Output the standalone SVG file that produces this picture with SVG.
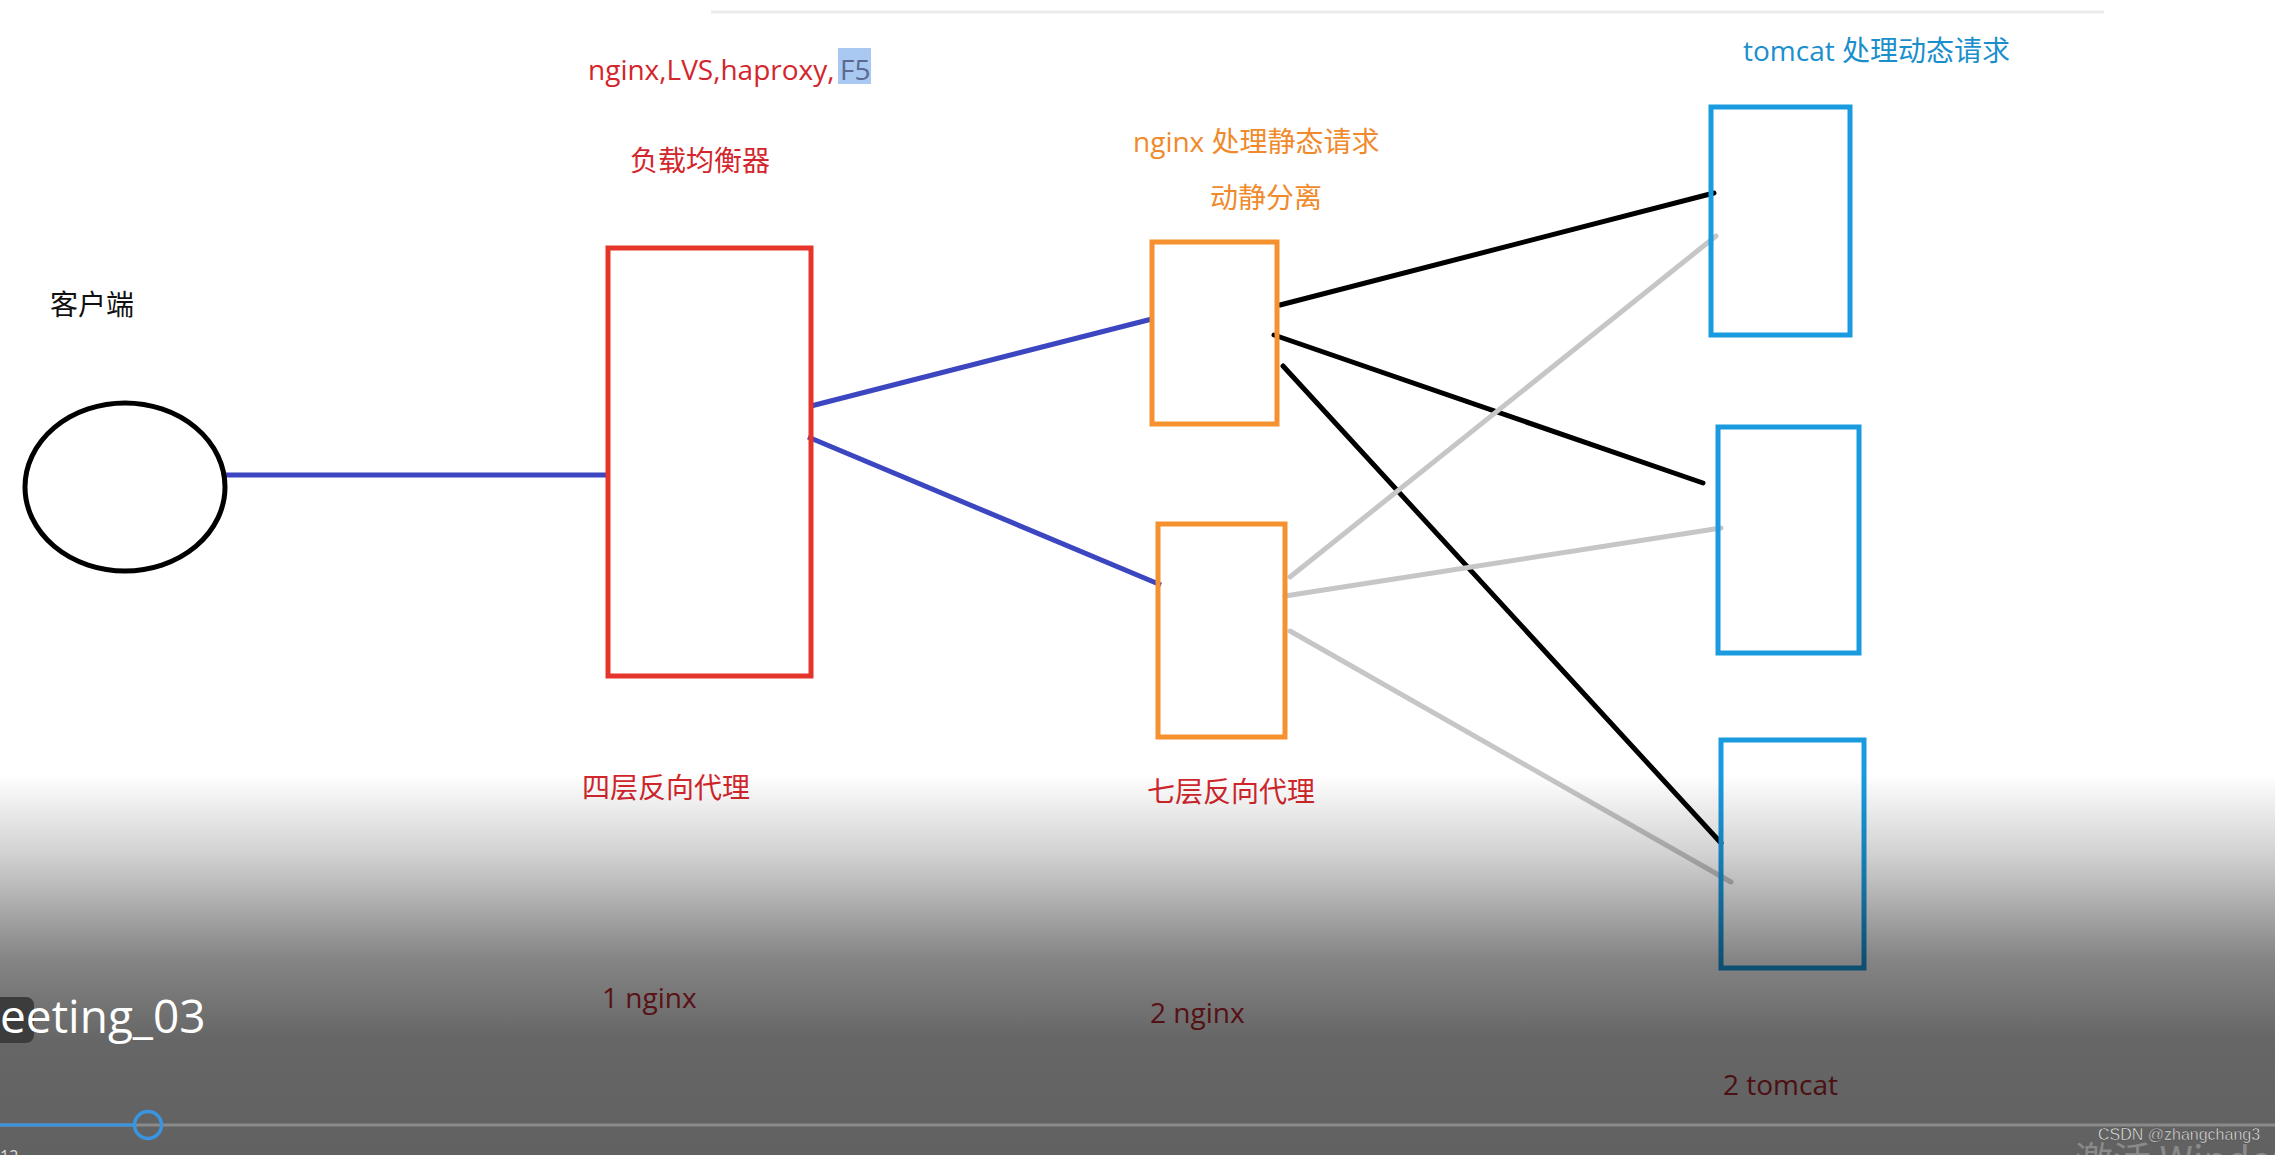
<svg xmlns="http://www.w3.org/2000/svg" width="2275" height="1155" viewBox="0 0 2275 1155">
<style>
.t{font-family:"Open Sans","Noto Sans CJK SC",sans-serif;font-size:28px}
.cjk{font-family:"Noto Sans CJK SC","Open Sans",sans-serif;font-size:28px}
.red{fill:#d3262c}
.org{fill:#f08a2c}
.blu{fill:#1a8fcc}
.box{fill:none;stroke-width:5}
.blk{stroke:#000;stroke-width:5;stroke-linecap:round}
.gry{stroke:#c6c6c6;stroke-width:5;stroke-linecap:round}
.bl{stroke:#3c46c0;stroke-width:5}
</style>
<defs>
<linearGradient id="shade" x1="0" y1="0" x2="0" y2="1155" gradientUnits="userSpaceOnUse">
<stop offset="0.67" stop-color="#000" stop-opacity="0"/>
<stop offset="0.74" stop-color="#000" stop-opacity="0.18"/>
<stop offset="0.83" stop-color="#000" stop-opacity="0.48"/>
<stop offset="0.9" stop-color="#000" stop-opacity="0.6"/>
<stop offset="1" stop-color="#000" stop-opacity="0.62"/>
</linearGradient>
</defs>
<rect width="2275" height="1155" fill="#fff"/>
<line x1="711" y1="12" x2="2104" y2="12" stroke="#ececec" stroke-width="3"/>

<g id="labels">
<text class="t red" x="588" y="80">nginx,LVS,haproxy,</text>
<rect x="838" y="48" width="33" height="36" fill="#a9c9f2"/>
<text class="t" x="840" y="80" fill="#5a6a90">F5</text>
<text class="cjk red" x="630" y="171">负载均衡器</text>
<text class="cjk" x="50" y="315" fill="#111">客户端</text>
<text class="t org" x="1133" y="152">nginx 处理静态请求</text>
<text class="cjk org" x="1210" y="208">动静分离</text>
<text class="t blu" x="1743" y="61">tomcat 处理动态请求</text>
<text class="cjk red" x="582" y="798">四层反向代理</text>
<text class="cjk red" x="1147" y="802">七层反向代理</text>
<text class="t" x="602" y="1008" fill="#c22830">1 nginx</text>
<text class="t" x="1150" y="1023" fill="#c22830">2 nginx</text>
<text class="t" x="1723" y="1095" fill="#c22830">2 tomcat</text>
</g>

<g id="connectors">
<line class="bl" x1="225" y1="475" x2="608" y2="475"/>
<line class="bl" x1="811" y1="406" x2="1152" y2="319"/>
<line class="bl" x1="808" y1="437" x2="1161" y2="585"/>
<line class="blk" x1="1280" y1="305" x2="1714" y2="193"/>
<line class="blk" x1="1274" y1="335" x2="1703" y2="483"/>
<line class="blk" x1="1283" y1="366" x2="1721" y2="843"/>
<line class="gry" x1="1290" y1="577" x2="1716" y2="236"/>
<line class="gry" x1="1285" y1="596" x2="1721" y2="528"/>
<line class="gry" x1="1290" y1="631" x2="1731" y2="882"/>
</g>

<g id="client"><ellipse cx="125" cy="487" rx="100" ry="84" fill="none" stroke="#000" stroke-width="5"/></g>
<g id="lb"><rect class="box" x="608" y="248" width="203" height="428" stroke="#e5352b"/></g>
<g id="nginx1"><rect class="box" x="1152" y="242" width="125" height="182" stroke="#f6912f"/></g>
<g id="nginx2"><rect class="box" x="1158" y="524" width="127" height="213" stroke="#f6912f"/></g>
<g id="tomcat1"><rect class="box" x="1711" y="107" width="139" height="228" stroke="#1a9be0"/></g>
<g id="tomcat2"><rect class="box" x="1718" y="427" width="141" height="226" stroke="#1a9be0"/></g>
<g id="tomcat3"><rect class="box" x="1721" y="740" width="143" height="228" stroke="#1a9be0"/></g>

<rect width="2275" height="1155" fill="url(#shade)"/>

<g id="player">
<rect x="-10" y="997" width="44" height="46" rx="8" fill="#3c3c3c"/>
<text x="0" y="1033" font-family="Open Sans,sans-serif" font-size="46" fill="#fff">eeting_03</text>
<line x1="0" y1="1125" x2="2275" y2="1125" stroke="#8a8a8a" stroke-width="3"/>
<line x1="0" y1="1125" x2="134" y2="1125" stroke="#3a95e0" stroke-width="3"/>
<circle cx="148" cy="1125" r="13.5" fill="none" stroke="#3a95e0" stroke-width="3.5"/>
<text x="0" y="1162" font-family="Open Sans,sans-serif" font-size="16" fill="#ddd">12</text>
<text x="2075" y="1174" font-family="'Noto Sans CJK SC',sans-serif" font-size="38" fill="#8a8a8a">激活 Windows</text>
<text x="2098" y="1140" font-family="'Liberation Sans',sans-serif" font-size="16" fill="#f0f0f0" stroke="#333" stroke-width="0.4">CSDN @zhangchang3</text>
</g>
</svg>
